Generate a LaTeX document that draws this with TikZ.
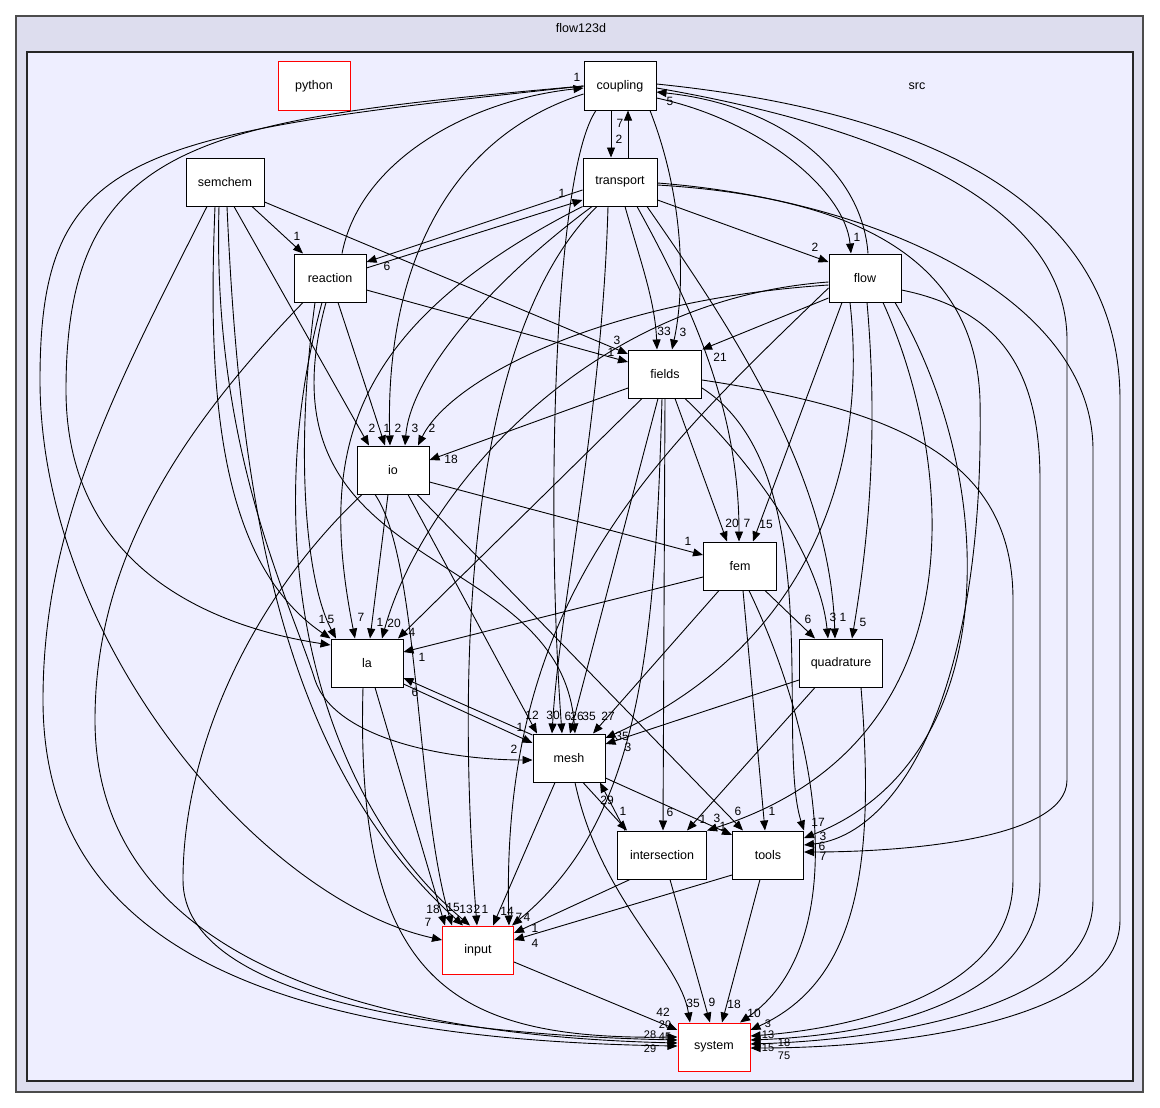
\documentclass[tikz,border=0pt]{standalone}
\usepackage{fontspec}
\setmainfont{Liberation Sans}
\usepackage{xcolor}
\usepackage{tikz}
\usetikzlibrary{arrows.meta}
\definecolor{clusterouter}{HTML}{DDDDEE}
\definecolor{clusterinner}{HTML}{EEEEFF}

\begin{document}
\begin{tikzpicture}[x=1pt,y=-1pt,>={Triangle[length=10pt,width=8pt]},
  dirbox/.style={draw=black,fill=white,line width=1pt,minimum width=72pt,minimum height=48pt,inner sep=0pt,font=\fontsize{12.5}{14}\selectfont},
  redbox/.style={dirbox,draw=red},
  dep/.style={->,line width=0.9pt},
  num/.style={font=\fontsize{12}{13}\selectfont,inner sep=0pt},
  tightnum/.style={num,font=\fontsize{11}{12}\selectfont}]
  \useasboundingbox (0,0) rectangle (1160,1108);
  \fill[white] (0,0) rectangle (1160,1108);
  % clusters
  \draw[fill=clusterouter,draw=black!70,line width=1.2pt] (16,16) rectangle (1143,1092);
  \node[font=\fontsize{12.5}{14}\selectfont] (outertitle) at (581,28) {flow123d};
  \draw[fill=clusterinner,draw=black!85,line width=1.2pt] (27,52) rectangle (1133,1081);
  \node[font=\fontsize{12.5}{14}\selectfont] (srctitle) at (917,86) {src};

  % directories
  \node[redbox] (python) at (314,86) {python};
  \node[dirbox] (coupling) at (620,86) {coupling};
  \node[dirbox,minimum width=78pt] (semchem) at (225,182) {semchem};
  \node[dirbox,minimum width=74pt] (transport) at (620,182) {transport};
  \node[dirbox] (reaction) at (330,278) {reaction};
  \node[dirbox] (flow) at (865,278) {flow};
  \node[dirbox,minimum width=73pt] (fields) at (665,374) {fields};
  \node[dirbox] (io) at (393,470) {io};
  \node[dirbox,minimum width=73pt] (fem) at (740,566) {fem};
  \node[dirbox] (la) at (367,663) {la};
  \node[dirbox,minimum width=83pt] (quadrature) at (841,663) {quadrature};
  \node[dirbox] (mesh) at (569,758) {mesh};
  \node[dirbox,minimum width=89pt] (intersection) at (662,855) {intersection};
  \node[dirbox,minimum width=71pt] (tools) at (768,855) {tools};
  \node[redbox,minimum width=71pt] (input) at (478,950) {input};
  \node[redbox] (system) at (714,1047) {system};

  % coupling
  \draw[dep] ([xshift=-9pt]coupling.south) -- ([xshift=-9pt]transport.north) node[num] at (619,139) {2};
  \draw[dep] ([xshift=8pt]transport.north) -- ([xshift=8pt]coupling.south) node[num] at (620,123) {7};
  \draw[dep] ([yshift=-12pt]coupling.east) .. controls (760,120) and (845,190) .. ([xshift=-14pt]flow.north) node[num] at (857,237) {1};
  \draw[dep] ([xshift=3pt]flow.north) .. controls (862,170) and (780,105) .. ([yshift=-6pt]coupling.east) node[num] at (670,101) {5};
  \draw[dep] ([xshift=12pt]reaction.north) .. controls (360,160) and (470,100) .. ([yshift=-2pt]coupling.west) node[num] at (577,77) {1};
  \draw[dep] (coupling.west) .. controls (130,135) and (40,150) .. (40,380) .. controls (40,640) and (260,900) .. ([yshift=10pt]input.west) node[num] at (428,922) {7};
  \draw[dep] (coupling.west) .. controls (200,120) and (66,140) .. (66,390) .. controls (66,560) and (200,625) .. ([yshift=18pt]la.west) node[num] at (322,619) {1};
  \draw[dep] ([yshift=-8pt]coupling.west) .. controls (440,140) and (385,280) .. ([xshift=-3pt]io.north) node[num] at (398,428) {2};
  \draw[dep] ([xshift=-24pt]coupling.south) .. controls (555,170) and (545,500) .. ([xshift=-7pt]mesh.north) node[num] at (568,716) {6};
  \draw[dep] ([xshift=30pt]coupling.south) .. controls (685,200) and (685,290) .. ([xshift=7pt]fields.north) node[num] at (683,332) {3};
  \draw[dep] ([yshift=-2pt]coupling.east) .. controls (900,130) and (1067,210) .. (1067,340) -- (1067,780) .. controls (1067,840) and (900,852) .. ([yshift=3pt]tools.east) node[num] at (823,856) {7};
  \draw[dep] ([yshift=2pt]coupling.east) .. controls (960,115) and (1120,220) .. (1120,400) -- (1120,920) .. controls (1120,1020) and (900,1048) .. ([yshift=-1pt]system.east) node[tightnum] at (784,1056) {75};

  % semchem
  \draw[dep] ([xshift=27pt]semchem.south) -- ([xshift=-27pt]reaction.north) node[num] at (297,236) {1};
  \draw[dep] ([yshift=-20pt]semchem.east) -- ([yshift=20pt]fields.west) node[num] at (617,340) {3};
  \draw[dep] ([xshift=9pt]semchem.south) -- ([xshift=-24pt]io.north) node[num] at (372,428) {2};
  \draw[dep] ([xshift=-10pt]semchem.south) .. controls (208,380) and (215,560) .. (la.north west) node[num] at (331,619) {5};
  \draw[dep] ([xshift=-6pt]semchem.south) .. controls (212,450) and (290,600) .. (315,680) .. controls (335,740) and (450,760) .. ([yshift=-2pt]mesh.west) node[num] at (514,749) {2};
  \draw[dep] ([xshift=2pt]semchem.south) .. controls (240,500) and (280,760) .. ([xshift=-15pt]input.north) node[num] at (466,909) {13};
  \draw[dep] ([xshift=-18pt]semchem.south) .. controls (120,380) and (43,520) .. (43,700) .. controls (43,960) and (300,1040) .. ([yshift=1pt]system.west) node[tightnum] at (650,1049) {29};

  % reaction
  \draw[dep] ([yshift=10pt]reaction.east) -- ([yshift=-18pt]transport.west) node[num] at (562,193) {1};
  \draw[dep] ([yshift=-8pt]transport.west) -- ([yshift=16pt]reaction.east) node[num] at (387,266) {6};
  \draw[dep] ([yshift=-12pt]reaction.east) -- ([yshift=12pt]fields.west) node[num] at (611,352) {1};
  \draw[dep] ([xshift=8pt]reaction.south) -- ([xshift=-8pt]io.north) node[num] at (387,428) {1};
  \draw[dep] ([xshift=-15pt]reaction.south) .. controls (295,450) and (305,580) .. ([xshift=-31pt]la.north);
  \draw[dep] ([xshift=-4pt]reaction.south) .. controls (250,580) and (560,540) .. ([xshift=6pt]mesh.north) node[num] at (589,716) {35};
  \draw[dep] ([xshift=-8pt]reaction.south) .. controls (255,550) and (320,800) .. ([xshift=-8pt]input.north) node[num] at (477,909) {2};
  \draw[dep] ([xshift=-27pt]reaction.south) .. controls (180,430) and (95,560) .. (95,720) .. controls (95,950) and (350,1035) .. ([yshift=4pt]system.west) node[tightnum] at (665,1037) {45};

  % transport
  \draw[dep] ([yshift=-18pt]transport.east) -- ([yshift=16pt]flow.west) node[num] at (815,247) {2};
  \draw[dep] ([xshift=5pt]transport.south) .. controls (640,260) and (655,300) .. ([xshift=-8pt]fields.north) node[num] at (664,331) {33};
  \draw[dep] ([xshift=17pt]transport.south) .. controls (700,320) and (739,420) .. ([xshift=-1pt]fem.north) node[num] at (747,523) {7};
  \draw[dep] ([xshift=27pt]transport.south) .. controls (740,340) and (830,480) .. ([xshift=-6pt]quadrature.north) node[num] at (843,617) {1};
  \draw[dep] ([xshift=-28pt]transport.south) .. controls (480,290) and (410,380) .. ([xshift=12pt]io.north) node[num] at (415,428) {3};
  \draw[dep] (transport.south west) .. controls (340,330) and (320,460) .. ([xshift=-12pt]la.north) node[num] at (361,617) {7};
  \draw[dep] ([xshift=-12pt]transport.south) .. controls (602,420) and (560,600) .. ([xshift=-17pt]mesh.north) node[num] at (553,715) {30};
  \draw[dep] ([xshift=-23pt]transport.south) .. controls (470,330) and (455,650) .. ([xshift=-1pt]input.north) node[num] at (485,909) {1};
  \draw[dep] ([yshift=-3pt]transport.east) .. controls (820,195) and (975,240) .. (980,400) .. controls (985,690) and (900,835) .. ([yshift=10pt]tools.east) node[num] at (822,846) {6};
  \draw[dep] ([yshift=-1pt]transport.east) .. controls (880,200) and (1093,300) .. (1093,450) -- (1093,900) .. controls (1093,1010) and (880,1040) .. ([yshift=3pt]system.east) node[tightnum] at (768,1048) {15};

  % flow
  \draw[dep] ([yshift=-7pt]flow.west) .. controls (600,300) and (450,380) .. ([xshift=25pt]io.north) node[num] at (432,428) {2};
  \draw[dep] ([yshift=-4pt]flow.west) .. controls (580,300) and (420,500) .. ([xshift=15pt]la.north) node[num] at (394,623) {20};
  \draw[dep] ([yshift=-10pt]flow.west) .. controls (650,460) and (500,600) .. ([xshift=31pt]input.north) node[num] at (519,917) {7};
  \draw[dep] ([yshift=-20pt]flow.west) -- (fields.north east) node[num] at (720,357) {21};
  \draw[dep] ([xshift=-23pt]flow.south) -- ([xshift=13pt]fem.north) node[num] at (766,524) {15};
  \draw[dep] ([xshift=-15pt]flow.south) .. controls (870,480) and (800,650) .. ([yshift=20pt]mesh.east) node[num] at (628,747) {3};
  \draw[dep] ([xshift=2pt]flow.south) .. controls (880,450) and (865,560) .. ([xshift=11pt]quadrature.north) node[num] at (863,622) {5};
  \draw[dep] ([xshift=18pt]flow.south) .. controls (950,450) and (990,740) .. (intersection.north east) node[num] at (717,818) {3};
  \draw[dep] ([xshift=30pt]flow.south) .. controls (1000,480) and (1005,760) .. ([yshift=17pt]tools.east) node[num] at (823,836) {3};
  \draw[dep] ([yshift=-12pt]flow.east) .. controls (1000,310) and (1040,370) .. (1040,480) -- (1040,880) .. controls (1040,1000) and (880,1035) .. ([yshift=7pt]system.east) node[tightnum] at (784,1043) {18};

  % fields
  \draw[dep] ([yshift=-14pt]fields.west) -- ([yshift=10pt]io.east) node[num] at (451,459) {18};
  \draw[dep] ([xshift=-23pt]fields.south) -- ([xshift=31pt]la.north) node[num] at (412,632) {4};
  \draw[dep] ([xshift=-7pt]fields.south) -- ([xshift=1pt]mesh.north) node[num] at (577,716) {26};
  \draw[dep] (fields.south) -- ([xshift=1pt]intersection.north) node[num] at (670,812) {6};
  \draw[dep] ([xshift=-3pt]fields.south) .. controls (655,650) and (640,820) .. ([xshift=-2pt]input.north east) node[num] at (527,917) {4};
  \draw[dep] ([xshift=10pt]fields.south) -- ([xshift=-13pt]fem.north) node[num] at (732,523) {20};
  \draw[dep] ([xshift=20pt]fields.south) .. controls (760,470) and (820,560) .. ([xshift=-13pt]quadrature.north) node[num] at (833,617) {3};
  \draw[dep] ([yshift=-14pt]fields.east) .. controls (830,470) and (775,740) .. (tools.north east) node[num] at (818,822) {17};
  \draw[dep] ([yshift=-6pt]fields.east) .. controls (900,410) and (1013,460) .. (1013,600) -- (1013,880) .. controls (1013,990) and (860,1028) .. ([yshift=11pt]system.east) node[tightnum] at (768,1035) {13};

  % io
  \draw[dep] ([xshift=-5pt]io.south) -- ([xshift=3pt]la.north) node[num] at (380,622) {1};
  \draw[dep] ([xshift=15pt]io.south) -- ([xshift=-32pt]mesh.north) node[num] at (532,715) {12};
  \draw[dep] ([yshift=-12pt]io.east) -- ([yshift=11pt]fem.west) node[num] at (688,541) {1};
  \draw[dep] ([xshift=24pt]io.south) -- ([xshift=-25pt]tools.north) node[num] at (738,811) {6};
  \draw[dep] ([xshift=-18pt]io.south) .. controls (420,560) and (415,800) .. ([xshift=-26pt]input.north) node[num] at (453,907) {15};
  \draw[dep] ([xshift=-31pt]io.south) .. controls (250,600) and (183,750) .. (183,880) .. controls (183,1000) and (450,1035) .. ([yshift=7pt]system.west) node[tightnum] at (650,1035) {28};

  % fem
  \draw[dep] ([yshift=-11pt]fem.west) -- ([yshift=11pt]la.east) node[num] at (422,657) {1};
  \draw[dep] ([xshift=25pt]fem.south) -- ([xshift=-26pt]quadrature.north) node[num] at (808,619) {6};
  \draw[dep] ([xshift=-21pt]fem.south) -- ([xshift=24pt]mesh.north) node[num] at (608,716) {27};
  \draw[dep] ([xshift=3pt]fem.south) -- ([xshift=-3pt]tools.north) node[num] at (772,811) {1};
  \draw[dep] ([xshift=9pt]fem.south) .. controls (830,760) and (845,950) .. ([xshift=26pt]system.north) node[num] at (754,1013) {10};

  % quadrature
  \draw[dep] ([yshift=-17pt]quadrature.west) -- ([yshift=14pt]mesh.east) node[num] at (622,736) {35};
  \draw[dep] ([xshift=-26pt]quadrature.south) -- ([xshift=25pt]intersection.north) node[num] at (703,819) {1};
  \draw[dep] ([xshift=20pt]quadrature.south) .. controls (875,860) and (860,980) .. ([yshift=17pt]system.east) node[tightnum] at (768,1024) {3};

  % la, mesh and the rest
  \draw[dep] ([yshift=23pt]mesh.west) -- ([yshift=-15pt]la.east) node[num] at (415,692) {6};
  \draw[dep] ([yshift=-21pt]la.east) -- ([yshift=15pt]mesh.west) node[num] at (520,727) {1};
  \draw[dep] ([xshift=8pt]la.south) -- ([xshift=-33pt]input.north) node[num] at (433,909) {18};
  \draw[dep] ([xshift=-4pt]la.south) .. controls (355,980) and (450,1040) .. ([yshift=10pt]system.west) node[tightnum] at (665,1025) {20};
  \draw[dep] ([xshift=14pt]mesh.south) -- ([xshift=-35pt]intersection.north) node[num] at (623,811) {1};
  \draw[dep] ([yshift=-20pt]mesh.east) -- ([yshift=20pt]tools.west) node[num] at (723,826) {1};
  \draw[dep] ([xshift=-14pt]mesh.south) -- ([xshift=15pt]input.north) node[num] at (507,911) {14};
  \draw[dep] ([xshift=6pt]mesh.south) .. controls (600,900) and (680,960) .. ([xshift=-24pt]system.north) node[num] at (693,1003) {35};
  \draw[dep] ([xshift=-37pt]intersection.north) -- ([xshift=31pt]mesh.south) node[num] at (607,800) {29};
  \draw[dep] ([xshift=-32pt]intersection.south) -- ([yshift=17pt]input.east) node[num] at (535,928) {1};
  \draw[dep] ([xshift=8pt]intersection.south) -- ([xshift=-4pt]system.north) node[num] at (712,1002) {9};
  \draw[dep] ([yshift=-20pt]tools.west) -- ([yshift=10pt]input.east) node[num] at (535,943) {4};
  \draw[dep] ([xshift=-8pt]tools.south) -- ([xshift=8pt]system.north) node[num] at (734,1004) {18};
  \draw[dep] ([yshift=-12pt]input.east) -- ([yshift=17pt]system.west) node[num] at (663,1012) {42};
\end{tikzpicture}
\end{document}
